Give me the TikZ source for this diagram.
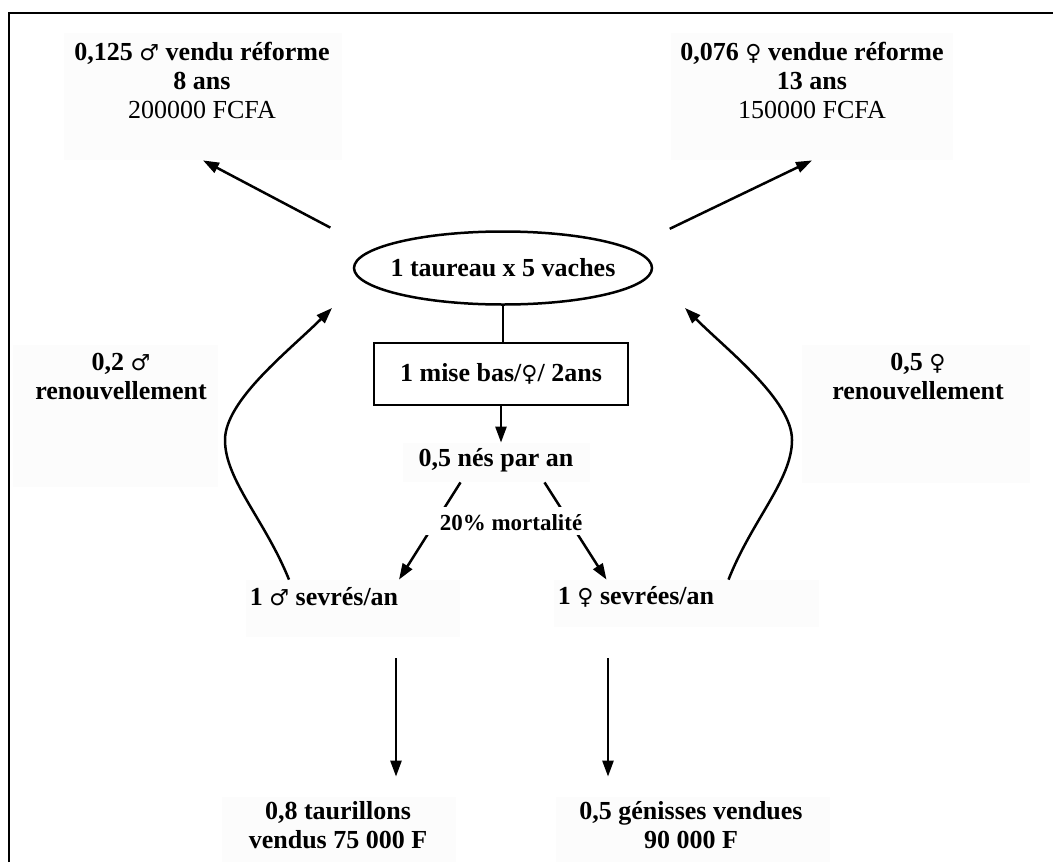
\documentclass[tikz,border=0pt]{standalone}
\usepackage{fontspec}
\setmainfont{Liberation Serif}
\newfontfamily\sexfont[Scale=0.85]{DejaVu Sans}
\newcommand{\mal}{{\sexfont\mdseries ♂}}
\newcommand{\fem}{{\sexfont\mdseries ♀}}
\usetikzlibrary{shapes.geometric,arrows.meta}

\begin{document}
\begin{tikzpicture}[x=0.5pt,y=-0.5pt,
                    font=\fontsize{13}{14.5}\selectfont\bfseries,
                    flow/.style={-{Triangle[length=8pt,width=5.5pt]},line width=1.25pt},
                    bgbox/.style={fill=black!1,inner sep=0pt},
                    txt/.style={align=center,inner sep=0pt},
                    herd/.style={ellipse,draw,line width=1.25pt,inner sep=0pt,minimum width=149pt,minimum height=36.5pt},
                    mise/.style={rectangle,draw,line width=1.25pt,minimum width=127pt,minimum height=31pt}]
    \useasboundingbox (0,0) rectangle (1053,862);
    \draw[line width=1pt] (9,862) -- (9,13) -- (1053,13);

    \node[bgbox,minimum width=139pt,minimum height=63.5pt] (reformMbg) at (203,96.5) {};
    \node[bgbox,minimum width=141pt,minimum height=63.5pt] (reformFbg) at (812,96.5) {};
    \node[bgbox,minimum width=102.5pt,minimum height=71pt] (renMbg) at (115.5,416) {};
    \node[bgbox,minimum width=114pt,minimum height=69pt] (renFbg) at (916,414) {};
    \node[bgbox,minimum width=93.5pt,minimum height=19.5pt] (nesbg) at (496.5,462.5) {};
    \node[bgbox,minimum width=107pt,minimum height=28.5pt] (sevMbg) at (353,608.5) {};
    \node[bgbox,minimum width=132.5pt,minimum height=23.5pt] (sevFbg) at (686.5,603.5) {};
    \node[bgbox,minimum width=117pt,minimum height=32.5pt] (taurbg) at (339,829.5) {};
    \node[bgbox,minimum width=137pt,minimum height=32.5pt] (genbg) at (693,829.5) {};

    \node[txt] (reformM) at (202,80) {0,125 \mal{} vendu réforme\\8 ans\\\mdseries 200000 FCFA};
    \node[txt] (reformF) at (812,80) {0,076 \fem{} vendue réforme\\13 ans\\\mdseries 150000 FCFA};
    \node[herd] (herd) at (503,268) {};
    \node[txt] (herdtxt) at (herd) {1 taureau x 5 vaches};
    \node[mise] (mise) at (501,374) {1 mise bas/\fem/ 2ans};
    \node[txt] (renM) at (121,377) {0,2 \mal\\renouvellement};
    \node[txt] (renF) at (918,377) {0,5 \fem\\renouvellement};
    \node[txt] (nes) at (496,460) {0,5 nés par an};
    \node[txt] (sevM) at (324,597) {1 \mal{} sevrés/an};
    \node[txt] (sevF) at (636,597) {1 \fem{} sevrées/an};
    \node[txt] (taur) at (338,825) {0,8 taurillons\\vendus 75 000 F};
    \node[txt] (gen) at (691,825) {0,5 génisses vendues\\90 000 F};

    \coordinate (backM) at (332,308);
    \coordinate (backF) at (685,308);

    \draw[line width=1.25pt] (herd.south) -- (herd.south |- mise.north);
    \path[flow] (herd.172) edge[shorten <=23.5pt] (reformMbg.south)
                (herd.9)   edge[shorten <=22pt] (reformFbg.south)
                (mise.south) edge (mise.south |- nesbg.north)
                ([xshift=-18pt]nesbg.south) edge ([xshift=23pt]sevMbg.north)
                ([xshift=24pt]nesbg.south)  edge ([xshift=-40pt]sevFbg.north);
    \draw[flow] ([xshift=-32pt]sevMbg.north) .. controls (265,520) and (225,480) .. (225,440)
                .. controls (225,400) and (290,350) .. (backM);
    \draw[flow] ([xshift=21pt]sevFbg.north) .. controls (752,520) and (792,480) .. (792,440)
                .. controls (792,400) and (727,350) .. (backF);
    \draw[flow,shorten <=10.5pt,shorten >=10pt] ([xshift=21.5pt]sevMbg.south) -- ([xshift=21.5pt]sevMbg.south |- taurbg.north);
    \draw[flow,shorten <=15.5pt,shorten >=10pt] ([xshift=-39.25pt]sevFbg.south) -- ([xshift=-39.25pt]sevFbg.south |- genbg.north);

    \node[bgbox,minimum width=92pt,minimum height=14pt,fill=white] (mortbg) at (515,521) {};
    \node[txt,font=\fontsize{11.5}{13}\selectfont\bfseries] (mort) at (511,523) {20\% mortalité};
\end{tikzpicture}
\end{document}
